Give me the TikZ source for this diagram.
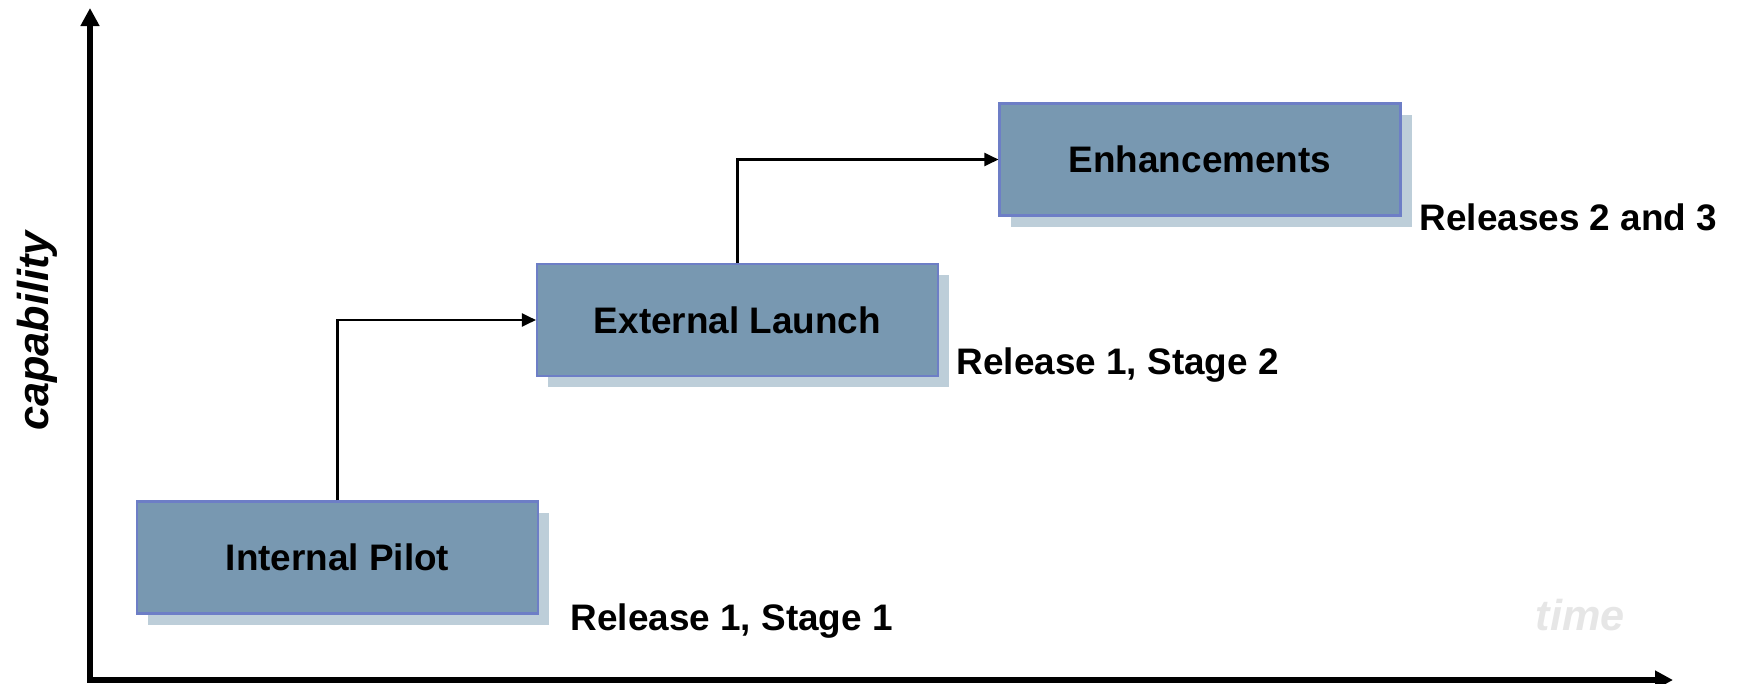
\documentclass[tikz,border=0pt]{standalone}
\usepackage{fontspec}
\setmainfont{Liberation Sans}
\usepackage{tikz}
\usetikzlibrary{calc,arrows.meta,positioning,shadows}
\definecolor{boxfill}{HTML}{7898B1}
\definecolor{boxline}{HTML}{6D7EC6}
\definecolor{shadefill}{HTML}{BDCED9}
\definecolor{timegray}{HTML}{E6E6E6}
\tikzset{
    stage/.style={
    rectangle,draw=boxline,line width=0.6pt,fill=boxfill,
    minimum width=4.01cm,minimum height=1.12cm,
    font=\fontsize{10.5}{12}\selectfont\bfseries,
    general shadow={shadow xshift=0.11cm,shadow yshift=-0.11cm,fill=shadefill}
    },
    relnote/.style={
    anchor=base west,inner sep=0pt,font=\fontsize{10.5}{12}\selectfont\bfseries
    },
    axislabel/.style={
    inner sep=0pt,font=\fontsize{12.3}{14}\selectfont\bfseries\itshape
    },
  axis/.style={draw, line width=1.5pt, -{Triangle[length=1.8mm,width=1.8mm]}},
  link/.style={draw, line width=0.6pt, -{Triangle[length=1.4mm,width=1.3mm]}},
}
\begin{document}
\begin{tikzpicture}
\useasboundingbox (0,0) rectangle (17.37,6.83);

  % axes
  \coordinate (origin) at (0.90,0.03);
  \coordinate (ytop) at (0.90,6.75);
  \coordinate (xend) at (16.73,0.03);
  \path[axis] ($(origin)+(0,-0.027)$) -- (ytop);
  \path[axis] ($(origin)+(-0.027,0)$) -- (xend);
  \node[axislabel,rotate=90] (cap) at (0.37,3.52) {capability};
  \node[axislabel,anchor=base west,text=timegray] (time) at (15.35,0.53) {time};

  % stages
  \node[stage] (pilot) at (3.375,1.255) {Internal Pilot};
  \node[stage] (launch) at (7.375,3.63) {External Launch};
  \node[stage] (enhance) at (12.00,5.235) {Enhancements};

  \node[relnote] (rel1) at (5.70,0.53) {Release 1, Stage 1};
  \node[relnote] (rel2) at (9.56,3.09) {Release 1, Stage 2};
  \node[relnote] (rel3) at (14.19,4.53) {Releases 2 and 3};

  \path[link] (pilot.north) |- (launch.west);
  \path[link] (launch.north) |- (enhance.west);
\end{tikzpicture}
\end{document}
